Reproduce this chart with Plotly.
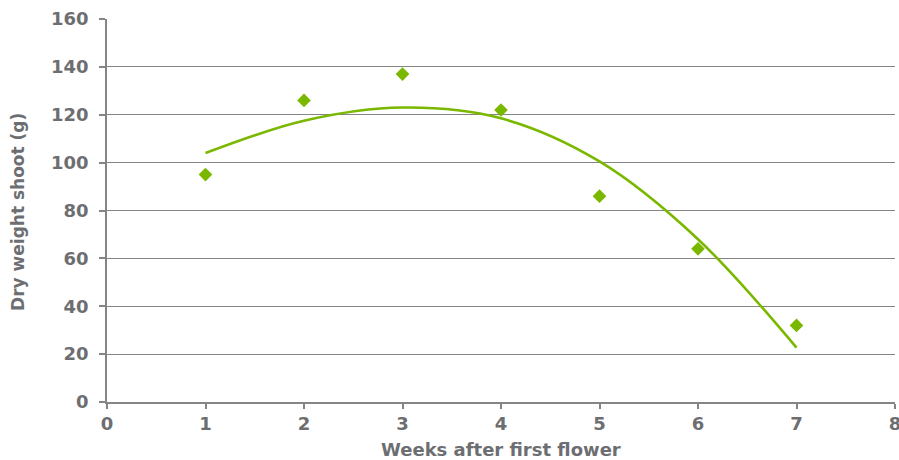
import plotly.graph_objects as go

weeks = [1, 2, 3, 4, 5, 6, 7]
dry_weight = [95, 126, 137, 122, 86, 64, 32]
# trend line
trend_x = [1, 2, 3, 4, 5, 6, 7]
trend_y = [104, 117.5, 123, 118.5, 100.5, 68, 22.7]

x_ticks = [0, 1, 2, 3, 4, 5, 6, 7, 8]
y_ticks = [0, 20, 40, 60, 80, 100, 120, 140, 160]

x_title = "Weeks after first flower"
y_title = "Dry weight shoot (g)"

green = "#7AB800"
text_col = "#6D6E71"
grid_col = "#858585"
font_fam = "DejaVu Sans, Liberation Sans, Arial, sans-serif"

fig = go.Figure()
fig.add_trace(go.Scatter(x=trend_x, y=trend_y, mode="lines",
                         line=dict(color=green, width=2.6, shape="spline", smoothing=1.0),
                         hoverinfo="skip", showlegend=False))
fig.add_trace(go.Scatter(x=weeks, y=dry_weight, mode="markers",
                         marker=dict(symbol="diamond", size=10.5, color=green),
                         showlegend=False))

fig.update_layout(
    width=899, height=460,
    margin=dict(l=107, r=4, t=19, b=58),
    paper_bgcolor="white", plot_bgcolor="white",
    font=dict(family=font_fam, color=text_col),
)
fig.update_xaxes(
    range=[0, 8], tickvals=x_ticks, ticktext=[str(v) for v in x_ticks],
    showgrid=False, zeroline=False, automargin=False, ticklabeloverflow="allow",
    showline=True, linecolor=grid_col, linewidth=1.5,
    ticks="outside", ticklen=5, tickcolor=grid_col, tickwidth=1.5,
    tickfont=dict(size=18, family=font_fam, color=text_col, weight="bold"),
)
fig.update_yaxes(
    range=[0, 160], tickvals=y_ticks, ticktext=[str(v) for v in y_ticks],
    showgrid=True, gridcolor=grid_col, gridwidth=1.3, zeroline=False, automargin=False,
    showline=True, linecolor=grid_col, linewidth=1.5,
    ticks="outside", ticklen=6, tickcolor=grid_col, tickwidth=1.5, ticklabelstandoff=7,
    tickfont=dict(size=18, family=font_fam, color=text_col, weight="bold"),
)
fig.add_annotation(text=x_title, xref="x domain", yref="paper", x=0.5, y=-0.125,
                   xanchor="center", yanchor="middle", showarrow=False,
                   font=dict(size=18, family=font_fam, color=text_col, weight="bold"))
fig.add_annotation(text=y_title, xref="paper", yref="paper", x=-0.1123, y=0.495,
                   xanchor="center", yanchor="middle", showarrow=False, textangle=-90,
                   font=dict(size=17, family=font_fam, color=text_col, weight="bold"))

fig.write_html("out.html", config={"displayModeBar": False},
               post_script="document.body.style.margin='0';")
